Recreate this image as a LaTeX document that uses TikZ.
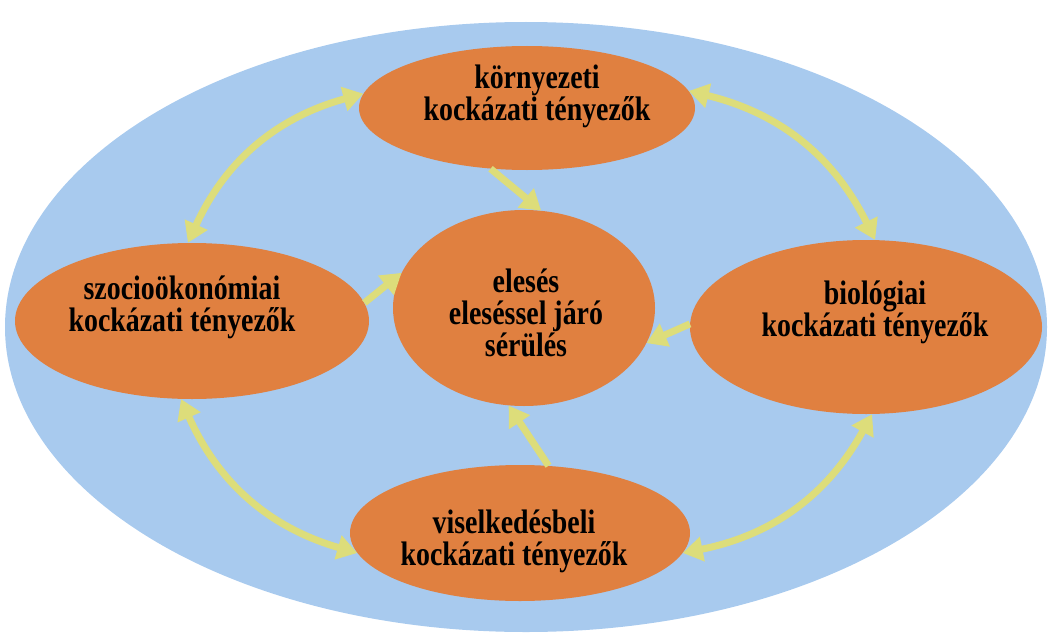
\documentclass[tikz,border=0pt]{standalone}
\usepackage{fontspec}
\newfontfamily\lbl[FakeStretch=0.82]{Liberation Serif}
\usetikzlibrary{shapes.geometric,arrows.meta}
\definecolor{bgblue}{HTML}{A8CAEE}
\definecolor{blobor}{HTML}{E08040}
\definecolor{arryel}{HTML}{DDDD7A}
\tikzset{
  blob/.style={ellipse, fill=blobor, draw=none, inner sep=0pt},
  lab/.style={align=center, inner sep=0pt, font=\lbl\bfseries\fontsize{34}{32}\selectfont},
  conn/.style={draw=arryel, line width=7pt, -{Triangle[length=20pt,width=24pt]}},
  bconn/.style={draw=arryel, line width=7pt, {Triangle[length=20pt,width=24pt]}-{Triangle[length=20pt,width=24pt]}}
}
\begin{document}
\begin{tikzpicture}[x=1pt,y=-1pt]
\useasboundingbox (0,0) rectangle (1049,634);
\node[ellipse, fill=bgblue, draw=none, minimum width=1042pt, minimum height=610pt, inner sep=0pt] (bg) at (526,327) {};
\node[blob, minimum width=336pt, minimum height=124pt] (top) at (527,108) {};
\node[blob, minimum width=354pt, minimum height=156pt] (left) at (192,321) {};
\node[blob, minimum width=262pt, minimum height=196pt] (mid) at (524,308) {};
\node[blob, minimum width=352pt, minimum height=174pt] (right) at (866,327) {};
\node[blob, minimum width=340pt, minimum height=136pt] (bot) at (520,533) {};
\node[lab] (topT) at (537,96) {környezeti\\kockázati tényezők};
\node[lab] (leftT) at (182,307) {szocioökonómiai\\kockázati tényezők};
\node[lab] (midT) at (526,313) {elesés\\eleséssel járó\\sérülés};
\node[lab] (rightT) at (875,312) {biológiai\\kockázati tényezők};
\node[lab] (botT) at (514,541) {viselkedésbeli\\kockázati tényezők};
\draw[bconn] (top.175) to[bend right=25] (left.93);
\draw[bconn] (top.6) to[bend left=25] (right.84);
\draw[bconn] (left.262) to[bend right=25] (bot.187);
\draw[bconn] (right.274) to[bend left=25] (bot.353);
\draw[conn] (top.239) -- (mid.80);
\draw[conn] (left.6) -- (mid.164);
\draw[conn] (right.179) -- (mid.344);
\draw[conn] (bot.67) -- (mid.261);
\end{tikzpicture}
\end{document}
